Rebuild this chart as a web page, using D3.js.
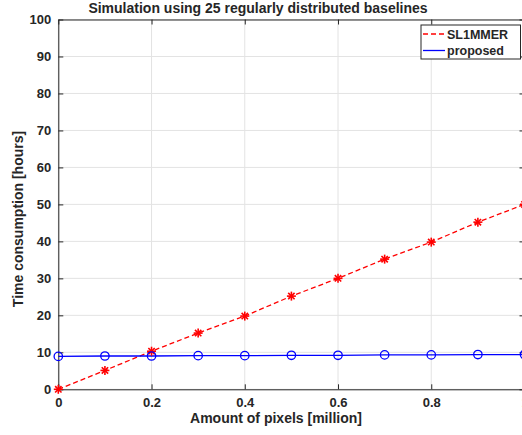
<!DOCTYPE html>
<html><head><meta charset="utf-8">
<script src="https://cdn.jsdelivr.net/npm/d3@7"></script>
<style>body{margin:0;background:#fff}text{font-family:"Liberation Sans",Arial,sans-serif;font-weight:bold;fill:#262626}</style>
</head><body><svg id="c" width="522" height="435"></svg>
<script>
const xValues = [0,0.1,0.2,0.3,0.4,0.5,0.6,0.7,0.8,0.9,1.0];
const sl1mmer = [0,5.1,10.3,15.2,19.8,25.2,30,35.2,39.8,45.2,50];
const proposed = [8.9,9.0,9.0,9.1,9.1,9.2,9.2,9.3,9.3,9.4,9.4];
const xTicks = [0,0.2,0.4,0.6,0.8,1];
const yTicks = [0,10,20,30,40,50,60,70,80,90,100];
const seriesNames = ["SL1MMER","proposed"];
const title = "Simulation using 25 regularly distributed baselines";

const svg = d3.select("#c");
const L=58.3, R=524.5, T=19.5, B=389.3;
const x = d3.scaleLinear().domain([0,1]).range([L,R]);
const y = d3.scaleLinear().domain([0,100]).range([B,T]);

// grid
svg.append("g").selectAll("line").data(xTicks).join("line")
  .attr("x1",d=>x(d)).attr("x2",d=>x(d)).attr("y1",T).attr("y2",B)
  .attr("stroke","#e3e3e3").attr("stroke-width",1);
svg.append("g").selectAll("line").data(yTicks).join("line")
  .attr("x1",L).attr("x2",R).attr("y1",d=>y(d)).attr("y2",d=>y(d))
  .attr("stroke","#e3e3e3").attr("stroke-width",1);

// axes
svg.append("g").attr("transform",`translate(0,${B})`)
  .call(d3.axisBottom(x).tickValues(xTicks).tickFormat(d=>d===0?"0":d3.format("")(d)).tickSizeInner(-5).tickSizeOuter(0).tickPadding(8));
svg.append("g").attr("transform",`translate(${L},0)`)
  .call(d3.axisLeft(y).tickValues(yTicks).tickSizeInner(-5).tickSizeOuter(0).tickPadding(7));
svg.append("g").attr("transform",`translate(0,${T})`)
  .call(d3.axisTop(x).tickValues(xTicks).tickFormat("").tickSizeInner(-5).tickSizeOuter(0));
svg.append("g").attr("transform",`translate(${R},0)`)
  .call(d3.axisRight(y).tickValues(yTicks).tickFormat("").tickSizeInner(-5).tickSizeOuter(0));
svg.selectAll(".domain, .tick line").attr("stroke","#262626");
svg.selectAll(".tick text").style("font-size","13px").style("font-family","Liberation Sans, Arial, sans-serif").style("font-weight","bold").attr("fill","#262626");

// lines
const line = d3.line().x((d,i)=>x(xValues[i])).y(d=>y(d));
svg.append("path").datum(sl1mmer).attr("d",line).attr("fill","none")
  .attr("stroke","#ff0000").attr("stroke-width",1.3).attr("stroke-dasharray","5,3");
svg.append("path").datum(proposed).attr("d",line).attr("fill","none")
  .attr("stroke","#0000ff").attr("stroke-width",1.3);

// markers
const star = svg.append("g").selectAll("g").data(sl1mmer).join("g")
  .attr("transform",(d,i)=>`translate(${x(xValues[i])},${y(d)})`);
[0,45,90,135].forEach(a=>{
  star.append("line").attr("x1",0).attr("y1",-4.5).attr("x2",0).attr("y2",4.5)
    .attr("transform",`rotate(${a})`).attr("stroke","#ff0000").attr("stroke-width",1.6);
});
svg.append("g").selectAll("circle").data(proposed).join("circle")
  .attr("cx",(d,i)=>x(xValues[i])).attr("cy",d=>y(d)).attr("r",4.2)
  .attr("fill","none").attr("stroke","#0000ff").attr("stroke-width",1.3);

// title & labels
svg.append("text").attr("x",258).attr("y",13).attr("text-anchor","middle").style("font-size","14px").attr("fill","#000").text(title);
svg.append("text").attr("x",276).attr("y",423).attr("text-anchor","middle").style("font-size","14px").text("Amount of pixels [million]");
svg.append("text").attr("transform","translate(23,219) rotate(-90)").attr("text-anchor","middle").style("font-size","14px").text("Time consumption [hours]");

// legend
const lg = svg.append("g");
lg.append("rect").attr("x",421).attr("y",25).attr("width",99.5).attr("height",34).attr("fill","#fff").attr("stroke","#262626").attr("stroke-width",1);
const colors=["#ff0000","#0000ff"], dashes=["5,3",null];
seriesNames.forEach((n,i)=>{
  const yy = 34+i*16.5;
  lg.append("line").attr("x1",423).attr("x2",445).attr("y1",yy).attr("y2",yy)
    .attr("stroke",colors[i]).attr("stroke-width",1.3).attr("stroke-dasharray",dashes[i]);
  lg.append("text").attr("x",447).attr("y",yy+4.5).style("font-size","12.5px").attr("fill","#000").text(n);
});
</script></body></html>
